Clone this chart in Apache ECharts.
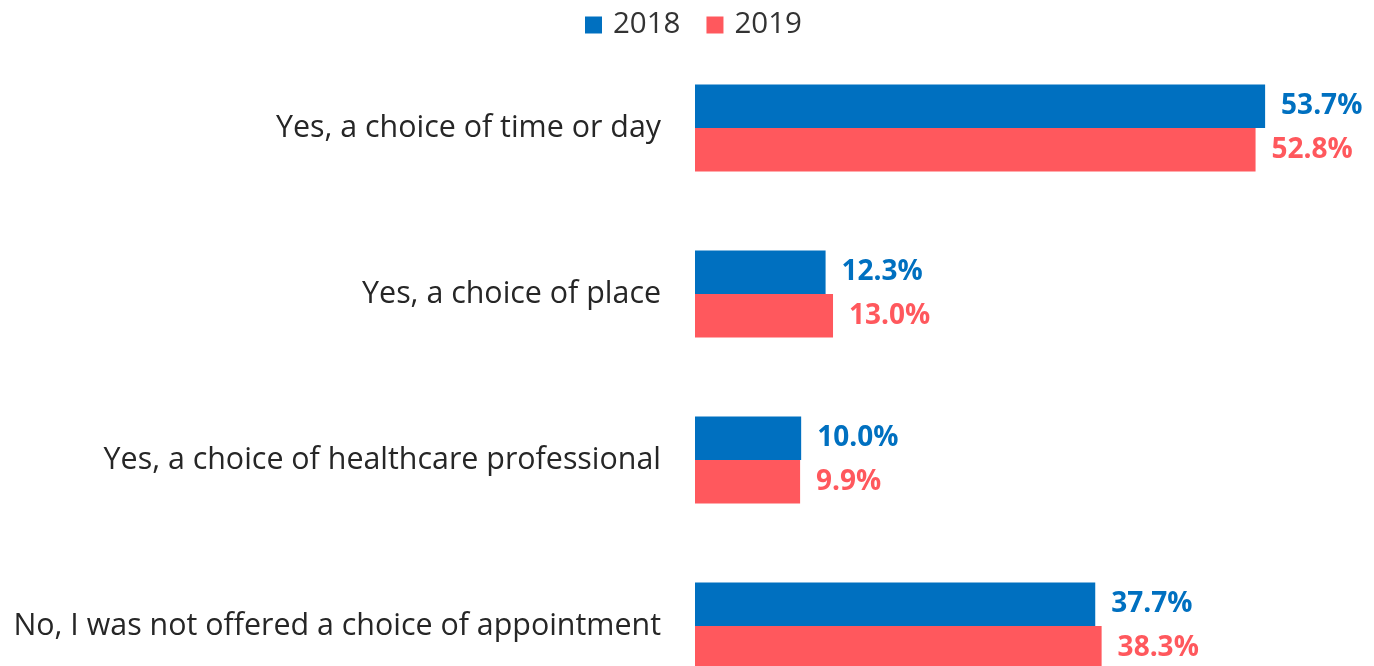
<!DOCTYPE html>
<html><head><meta charset="utf-8">
<script src="https://cdn.jsdelivr.net/npm/echarts@6/dist/echarts.min.js"></script>
<style>html,body{margin:0;padding:0;background:#fff}#c{width:1374px;height:666px}</style>
</head><body><div id="c"></div>
<script>
var categories = ["Yes, a choice of time or day","Yes, a choice of place","Yes, a choice of healthcare professional","No, I was not offered a choice of appointment"];
var values2018 = [53.7, 12.3, 10.0, 37.7];
var values2019 = [52.8, 13.0, 9.9, 38.3];
var seriesNames = ["2018","2019"];
var colors = ["#0070C0","#FF585D"];
var FONT = "'Open Sans', 'Noto Sans', sans-serif";
var chart = echarts.init(document.getElementById('c'));
function mk(name, data, color){
  return {name:name, type:'bar', data:data, barWidth:43.5, barGap:'0%',
    itemStyle:{color:color},
    label:{show:true, position:'right', distance:16, color:color, fontWeight:'bold', fontSize:28, fontFamily:FONT,
      padding:[4,0,0,0],
      formatter:function(p){return p.value.toFixed(1)+'%';}}};
}
chart.setOption({
  animation:false,
  legend:{top:5, left:580, itemWidth:17, itemHeight:17, itemGap:26, icon:'rect',
    textStyle:{fontSize:29.5, color:'#333', fontFamily:FONT, padding:[0,0,0,6]}, data:seriesNames},
  grid:{left:695, top:45, height:664, right:42, containLabel:false, outerBoundsMode:'none'},
  xAxis:{type:'value', min:0, max:60, show:false},
  yAxis:{type:'category', data:categories, inverse:true,
    axisLine:{show:false}, axisTick:{show:false},
    axisLabel:{fontSize:30.4, color:'#262626', margin:34, fontFamily:FONT, padding:[8,0,0,0]}},
  series:[mk(seriesNames[0], values2018, colors[0]), mk(seriesNames[1], values2019, colors[1])]
});
</script></body></html>
